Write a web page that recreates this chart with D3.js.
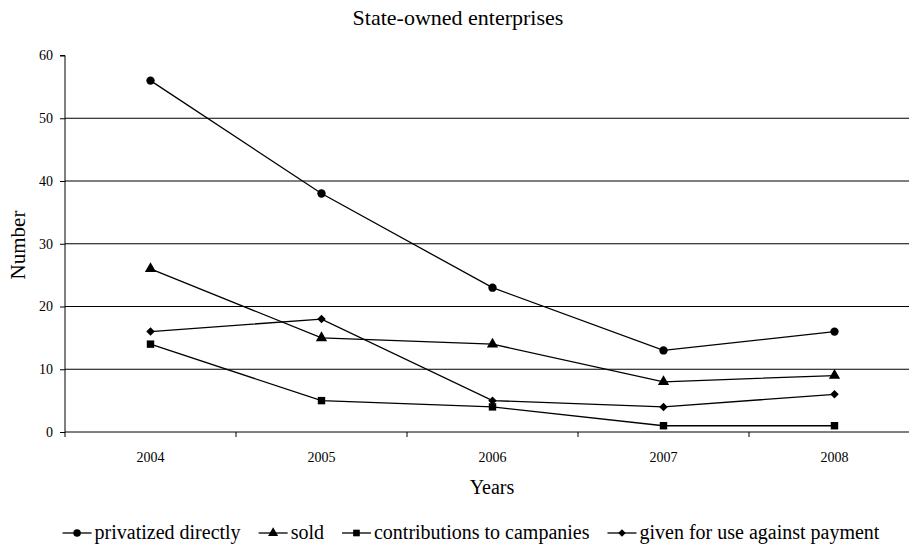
<!DOCTYPE html>
<html>
<head>
<meta charset="utf-8">
<script src="https://cdn.jsdelivr.net/npm/d3@7"></script>
<style>
  html, body { margin: 0; padding: 0; background: #fff; }
  svg { display: block; }
  svg text { font-family: "Liberation Serif", "Times New Roman", Times, serif !important; fill: #000; }
</style>
</head>
<body>
<svg id="chart" width="909" height="547"></svg>
<script>
const years = ["2004", "2005", "2006", "2007", "2008"];
const privatizedDirectly = [56, 38, 23, 13, 16];
const sold = [26, 15, 14, 8, 9];
const contributions = [14, 5, 4, 1, 1];
const givenForUse = [16, 18, 5, 4, 6];
const yTicks = [0, 10, 20, 30, 40, 50, 60];
const seriesNames = ["privatized directly", "sold", "contributions to campanies", "given for use against payment"];

const FONT = "Liberation Serif, Times New Roman, serif";

const series = [
  { name: seriesNames[0], values: privatizedDirectly, symbol: d3.symbolCircle, size: 55, rot: 0 },
  { name: seriesNames[1], values: sold, symbol: d3.symbolTriangle, size: 55, rot: 0 },
  { name: seriesNames[2], values: contributions, symbol: d3.symbolSquare, size: 55, rot: 0 },
  { name: seriesNames[3], values: givenForUse, symbol: d3.symbolSquare, size: 36, rot: 45 }
];

const svg = d3.select("#chart");
const mLeft = 65, mRight = 920, mTop = 55.5, mBottom = 432;

const x = d3.scaleBand().domain(years).range([mLeft, mRight]);
const y = d3.scaleLinear().domain([0, 60]).range([mBottom, mTop]);

// gridlines
svg.append("g").selectAll("line")
  .data(yTicks.filter(t => t > 0 && t < 60))
  .join("line")
  .attr("x1", mLeft).attr("x2", mRight)
  .attr("y1", d => y(d)).attr("y2", d => y(d))
  .attr("stroke", "#000").attr("stroke-width", 1);

// y axis
const yAxis = svg.append("g")
  .attr("transform", `translate(${mLeft},0)`)
  .call(d3.axisLeft(y).tickValues(yTicks).tickSize(5).tickPadding(7));
yAxis.attr("font-family", FONT);
yAxis.selectAll("path, line").attr("stroke", "#000");
yAxis.selectAll("text").attr("font-family", FONT).attr("font-size", 14).attr("fill", "#000");
yAxis.select(".domain").attr("d", `M-5,${mTop}H0V${mBottom}`);

// x axis
const xAxisG = svg.append("g");
xAxisG.append("line")
  .attr("x1", mLeft).attr("x2", mRight)
  .attr("y1", mBottom).attr("y2", mBottom)
  .attr("stroke", "#000");
const bounds = years.map(d => x(d)).concat([x(years[years.length - 1]) + x.bandwidth()]);
xAxisG.selectAll("line.tick").data(bounds).join("line")
  .attr("class", "tick")
  .attr("x1", d => d).attr("x2", d => d)
  .attr("y1", mBottom).attr("y2", mBottom + 5)
  .attr("stroke", "#000");
xAxisG.selectAll("text").data(years).join("text")
  .attr("x", d => x(d) + x.bandwidth() / 2)
  .attr("y", 462)
  .attr("text-anchor", "middle")
  .attr("font-family", FONT)
  .attr("font-size", 14)
  .text(d => d);

// lines and markers
const line = d3.line()
  .x((d, i) => x(years[i]) + x.bandwidth() / 2)
  .y(d => y(d));

series.forEach(s => {
  svg.append("path")
    .datum(s.values)
    .attr("d", line)
    .attr("fill", "none")
    .attr("stroke", "#000")
    .attr("stroke-width", 1.3);
  svg.append("g").selectAll("path")
    .data(s.values)
    .join("path")
    .attr("transform", (d, i) => `translate(${x(years[i]) + x.bandwidth() / 2},${y(d)}) rotate(${s.rot})`)
    .attr("d", d3.symbol().type(s.symbol).size(s.size))
    .attr("fill", "#000");
});

// title
svg.append("text")
  .attr("x", 458).attr("y", 25)
  .attr("text-anchor", "middle")
  .attr("font-family", FONT)
  .attr("font-size", 22)
  .text("State-owned enterprises");

// axis titles
svg.append("text")
  .attr("x", 492).attr("y", 494)
  .attr("text-anchor", "middle")
  .attr("font-family", FONT)
  .attr("font-size", 20)
  .text("Years");

svg.append("text")
  .attr("transform", "translate(25,245) rotate(-90)")
  .attr("text-anchor", "middle")
  .attr("font-family", FONT)
  .attr("font-size", 21)
  .text("Number");

// legend
const legend = svg.append("g");
let lx = 0;
series.forEach(s => {
  const g = legend.append("g");
  g.append("line").attr("x1", 0).attr("x2", 29).attr("y1", 0).attr("y2", 0)
    .attr("stroke", "#000").attr("stroke-width", 1.3);
  g.append("path").attr("transform", `translate(14.5,0) rotate(${s.rot})`)
    .attr("d", d3.symbol().type(s.symbol).size(s.size * 0.8)).attr("fill", "#000");
  const t = g.append("text").attr("x", 32).attr("y", 6)
    .attr("font-family", FONT).attr("font-size", 20).text(s.name);
  const w = 32 + t.node().getComputedTextLength();
  g.attr("transform", `translate(${lx},0)`);
  lx += w + 18;
});
const totalW = lx - 18;
legend.attr("transform", `translate(${471 - totalW / 2},533)`);
</script>
</body>
</html>
